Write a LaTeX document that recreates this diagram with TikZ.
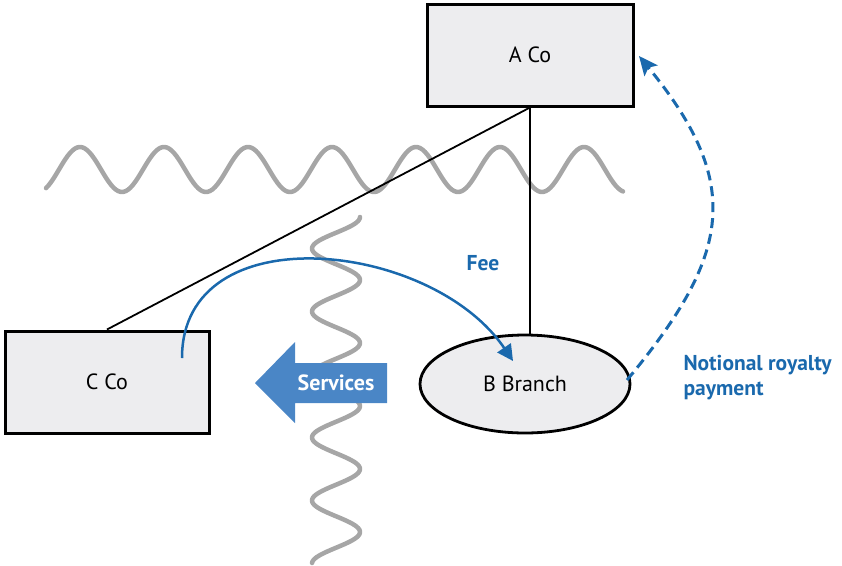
\documentclass[tikz,border=0pt]{standalone}
\usepackage{fontspec}
\setmainfont{PT Sans}
\usetikzlibrary{shapes.geometric,arrows.meta}
\definecolor{boxfill}{HTML}{EDEDEF}
\definecolor{wavegray}{HTML}{A6A6A6}
\definecolor{darkblue}{HTML}{1A69AD}
\definecolor{lightblue}{HTML}{4A86C6}
\begin{document}
\begin{tikzpicture}[x=1pt,y=-1pt,
  entity/.style={draw=black, line width=3pt, fill=boxfill, font=\fontsize{22}{25}\selectfont, inner sep=0pt},
  wave/.style={draw=wavegray, line width=4.5pt, line cap=round, line join=round},
  link/.style={draw=black, line width=1.8pt},
  flow/.style={draw=darkblue, line width=2.5pt, -{Triangle[length=16pt,width=16pt]}},
  royal/.style={draw=darkblue, line width=3pt, dash pattern=on 10pt off 6pt, -{Stealth[length=19pt,width=17pt,inset=4pt]}},
  lbl/.style={text=darkblue, font=\bfseries\fontsize{21.5}{25}\selectfont}
]
\useasboundingbox (0,0) rectangle (842,565);
% waves (borders)
\draw[wave] plot[domain=46:623, samples=240, smooth] (\x, {169.5 - 22.5*cos((\x-80)*4.285714)});
\draw[wave] plot[domain=217:563, samples=240, smooth] ({336 + 24*cos((\x-217)*5.714286)}, \x);
% entities
\node[entity, minimum width=206pt, minimum height=102pt] (A) at (530,55) {A Co};
\node[entity, minimum width=204pt, minimum height=102pt] (C) at (107,382) {C Co};
\node[entity, ellipse, line width=2.8pt, minimum width=210pt, minimum height=98pt] (B) at (525,384) {B Branch};
% ownership links
\draw[link] (A.south) -- (C.north);
\draw[link] (A.south) -- (A.south |- B.north);
% fee
\coordinate (feeS) at (182,358);
\coordinate (feeE) at (513,361);
\draw[flow] (feeS) .. controls (182,214) and (431,240) .. (feeE);
\node[lbl] (fee) at (483,263) {Fee};
% services
\fill[lightblue] (387,363) -- (295,363) -- (295,342) -- (255,383) -- (295,423) -- (295,403) -- (387,403) -- cycle;
\node[text=white, font=\bfseries\fontsize{22}{25}\selectfont] (svc) at (336,383) {Services};
% notional royalty
\coordinate (rS) at (627,380);
\coordinate (rE) at (639,56);
\draw[royal] (rS) .. controls (732,254) and (743,183) .. (rE);
\node[lbl, anchor=west, align=left] (nrp) at (680,378) {Notional royalty\\payment};
\end{tikzpicture}
\end{document}
